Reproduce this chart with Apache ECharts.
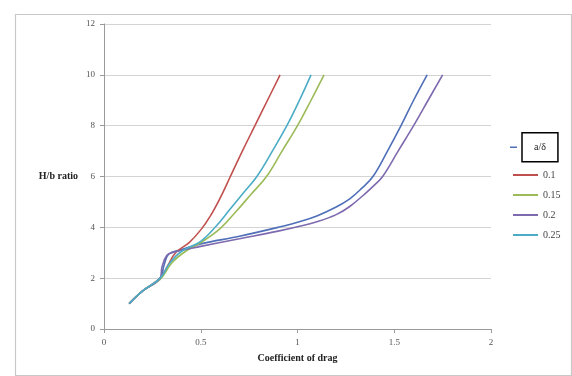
<!DOCTYPE html>
<html>
<head>
<meta charset="utf-8">
<script src="https://cdn.jsdelivr.net/npm/echarts@6/dist/echarts.min.js"></script>
<style>
html,body{margin:0;padding:0;background:#fff;}
#c{width:572px;height:376px;}
</style>
</head>
<body>
<div id="c"></div>
<script>
// Series names (legend)
const seriesNames = ['a/δ', '0.1', '0.15', '0.2', '0.25'];
const seriesColors = ['#4F6FB8', '#C0504D', '#9BBB59', '#7E6AAE', '#4BACC6'];

// Coefficient of drag (x) and H/b ratio (y) for each series
const cdA   = [0.13, 0.20, 0.29, 0.31, 0.335, 0.40, 0.50, 0.70, 0.90, 1.00, 1.10, 1.20, 1.27, 1.33, 1.39, 1.465, 1.535, 1.60, 1.67];
const hbA   = [1.0,  1.5,  2.0,  2.5,  2.95,  3.12, 3.35, 3.65, 4.0,  4.2,  4.45, 4.8,  5.12, 5.52, 6.0,  7.0,   8.0,   9.0,  10.0];

const cd01  = [0.13, 0.20, 0.29, 0.33, 0.37, 0.44, 0.50, 0.55, 0.60, 0.65, 0.715, 0.78, 0.845, 0.91];
const hb01  = [1.0,  1.5,  2.0,  2.5,  3.0,  3.4,  3.9,  4.45, 5.15, 5.95, 7.0,   8.0,  9.0,   10.0];

const cd015 = [0.13, 0.20, 0.29, 0.35, 0.42, 0.50, 0.60, 0.68, 0.76, 0.84, 0.92, 1.00, 1.07, 1.137];
const hb015 = [1.0,  1.5,  1.95, 2.6,  3.05, 3.4,  3.95, 4.6,  5.3,  6.0,  7.0,  8.0,  9.0,  10.0];

const cd02  = [0.13, 0.20, 0.29, 0.30, 0.325, 0.36, 0.50, 0.70, 0.90, 1.00, 1.10, 1.20, 1.27, 1.35, 1.40, 1.44, 1.52, 1.60, 1.675, 1.75];
const hb02  = [1.0,  1.5,  2.0,  2.45, 2.9,   3.02, 3.25, 3.55, 3.85, 4.02, 4.22, 4.5,  4.82, 5.33, 5.68, 6.0,  7.0,  8.0,  9.0,   10.0];

const cd025 = [0.13, 0.20, 0.29, 0.34, 0.40, 0.50, 0.58, 0.65, 0.72, 0.79, 0.87, 0.945, 1.01, 1.07];
const hb025 = [1.0,  1.5,  2.0,  2.6,  3.05, 3.45, 4.05, 4.7,  5.35, 6.0,  7.0,  8.0,   9.0,  10.0];

const xTicks = [0, 0.5, 1, 1.5, 2];
const yTicks = [0, 2, 4, 6, 8, 10, 12];

const xs = [cdA, cd01, cd015, cd02, cd025];
const ys = [hbA, hb01, hb015, hb02, hb025];

const font = 'Liberation Serif';
const chart = echarts.init(document.getElementById('c'), null, {renderer: 'canvas'});

const series = seriesNames.map((n, i) => ({
  name: n,
  type: 'line',
  smooth: 0.4,
  symbol: 'none',
  data: xs[i].map((x, j) => [x, ys[i][j]]),
  lineStyle: {width: 1.6, color: seriesColors[i]},
  itemStyle: {color: seriesColors[i]},
  z: 3
}));

chart.setOption({
  animation: false,
  backgroundColor: '#fff',
  graphic: [{
    type: 'rect', left: 13, top: 12,
    shape: {width: 556, height: 361},
    style: {fill: 'none', stroke: '#C8C8C8', lineWidth: 1.2},
    z: -1
  }],
  grid: {left: 104, right: 81, top: 24, bottom: 47, containLabel: false},
  xAxis: {
    type: 'value', min: xTicks[0], max: xTicks[xTicks.length - 1], interval: 0.5,
    name: 'Coefficient of drag', nameLocation: 'middle', nameGap: 24,
    nameTextStyle: {fontFamily: font, fontWeight: 'bold', fontSize: 10, color: '#222'},
    axisLine: {show: true, lineStyle: {color: '#9A9A9A', width: 1}},
    axisTick: {show: true, length: 4, lineStyle: {color: '#9A9A9A'}},
    axisLabel: {fontFamily: font, fontSize: 9, color: '#555', margin: 9,
      formatter: v => String(v)},
    splitLine: {show: false}
  },
  yAxis: {
    type: 'value', min: yTicks[0], max: yTicks[yTicks.length - 1], interval: 2,
    name: 'H/b ratio', nameLocation: 'middle', nameGap: 26, nameRotate: 0,
    nameTextStyle: {fontFamily: font, fontWeight: 'bold', fontSize: 10, color: '#222', align: 'right'},
    axisLine: {show: true, lineStyle: {color: '#9A9A9A', width: 1}},
    axisTick: {show: true, length: 4, lineStyle: {color: '#9A9A9A'}},
    axisLabel: {fontFamily: font, fontSize: 9, color: '#555', margin: 9},
    splitLine: {show: true, lineStyle: {color: '#D4D4D4', width: 1}}
  },
  legend: [{
    data: [{name: seriesNames[0], textStyle: {
      borderColor: '#000', borderWidth: 1.5, padding: [10, 12, 9, 12],
      fontFamily: font, fontSize: 10, color: '#222'}}],
    left: 510, top: 132, orient: 'vertical', icon: 'rect',
    itemWidth: 7, itemHeight: 1.5, itemGap: 0, padding: 0,
    selectedMode: false
  }, {
    data: seriesNames.slice(1),
    left: 513, top: 170, orient: 'vertical', icon: 'rect',
    itemWidth: 25, itemHeight: 2, itemGap: 10, padding: 0,
    textStyle: {fontFamily: font, fontSize: 10, color: '#444'},
    selectedMode: false
  }],
  series: series
});
</script>
</body>
</html>
